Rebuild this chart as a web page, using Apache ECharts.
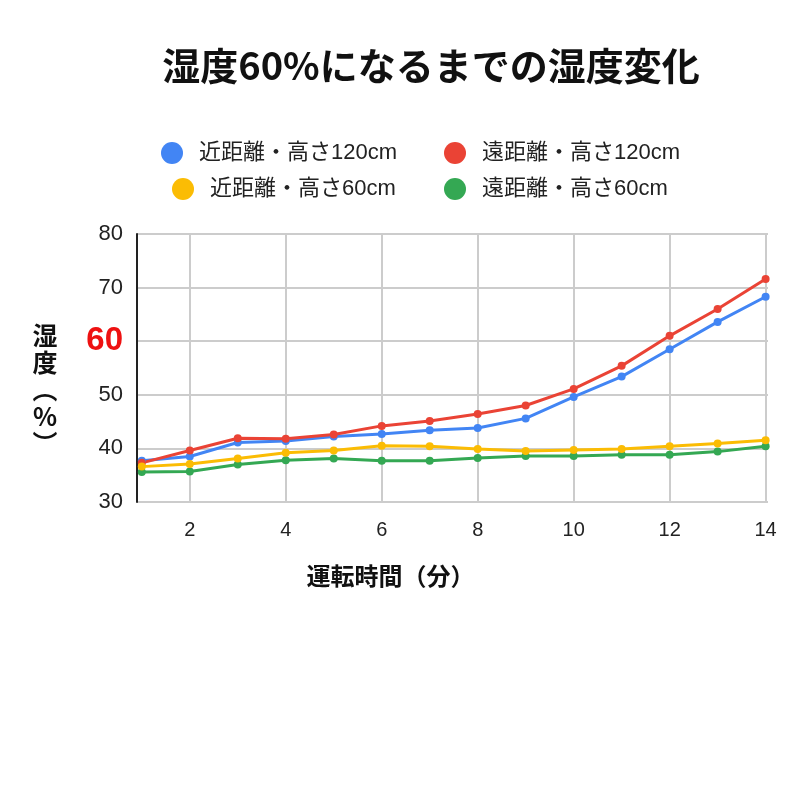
<!DOCTYPE html>
<html>
<head>
<meta charset="utf-8">
<script src="https://cdn.jsdelivr.net/npm/echarts@6/dist/echarts.min.js"></script>
<style>html,body{margin:0;padding:0;background:#fff}#c{width:800px;height:800px}</style>
</head>
<body>
<div id="c"></div>
<script>
const minutes = [1,2,3,4,5,6,7,8,9,10,11,12,13,14];
const xTicks = [2,4,6,8,10,12,14];
const yTicks = [30,40,50,60,70,80];
const seriesNames = ['近距離・高さ120cm','遠距離・高さ120cm','近距離・高さ60cm','遠距離・高さ60cm'];
const nearHigh = [37.7,38.5,41.1,41.4,42.2,42.7,43.4,43.8,45.6,49.6,53.4,58.5,63.6,68.3];
const farHigh  = [37.3,39.6,41.9,41.8,42.6,44.2,45.1,46.4,48.0,51.1,55.4,61.0,66.0,71.6];
const nearLow  = [36.6,37.1,38.1,39.2,39.6,40.5,40.4,39.9,39.5,39.7,39.9,40.4,40.9,41.5];
const farLow   = [35.6,35.7,37.0,37.8,38.1,37.7,37.7,38.2,38.6,38.6,38.8,38.8,39.4,40.4];
const colors = ['#4285F4','#EA4335','#FBBC04','#34A853'];

const latin = "'Liberation Sans','Noto Sans CJK JP',sans-serif";
const cjk = "'Noto Sans CJK JP',sans-serif";

function pairs(vals){ return minutes.map((m,i)=>[m, vals[i]]); }

const chart = echarts.init(document.getElementById('c'), null, {renderer:'canvas'});
function legendAt(name, left, top){
  return {
    data:[name], left:left, top:top, itemWidth:44, itemHeight:22, icon:'circle',
    selectedMode:false,
    textStyle:{fontSize:22, color:'#222', fontFamily:latin}
  };
}
const valsList = [nearHigh, farHigh, nearLow, farLow];
const order = [0,1,3,2];
const yNameText = '{s| }\n{a|湿}\n{a|度}\n{a|︵}\n{a|%}\n{a|︶}';
chart.setOption({
  animation:false,
  backgroundColor:'#fff',
  title:{
    text:'湿度60%になるまでの湿度変化',
    left:426, textAlign:'center', top:42,
    textStyle:{fontSize:38, fontWeight:'bold', color:'#111', fontFamily:cjk}
  },
  legend:[
    legendAt(seriesNames[0],156,137),
    legendAt(seriesNames[1],439,137),
    legendAt(seriesNames[2],167,173),
    legendAt(seriesNames[3],439,173)
  ],
  grid:{left:137, top:234, width:631, height:268, containLabel:false},
  xAxis:{
    type:'value', min:0.9, max:14.05,
    name:'運転時間（分）', nameLocation:'middle', nameGap:62,
    nameTextStyle:{fontSize:24, fontWeight:'bold', color:'#111', fontFamily:cjk, padding:[0,124,0,0]},
    axisLine:{show:false},
    axisTick:{show:false, customValues:xTicks},
    axisLabel:{customValues:xTicks, fontSize:20, color:'#222', fontFamily:latin, margin:18},
    splitLine:{show:true, lineStyle:{color:'#cccccc', width:2}}
  },
  yAxis:{
    type:'value', min:30, max:80, interval:10,
    name:yNameText, nameLocation:'middle', nameGap:92, nameRotate:0,
    nameTextStyle:{
      fontSize:25, fontWeight:'bold', color:'#111', fontFamily:cjk, align:'center', verticalAlign:'middle',
      rich:{
        s:{fontSize:10, lineHeight:42},
        a:{fontSize:25, fontWeight:'bold', color:'#111', fontFamily:cjk, lineHeight:27, align:'center'}
      }
    },
    axisLine:{show:true, lineStyle:{color:'#222', width:2}},
    axisTick:{show:false},
    axisLabel:{
      fontSize:22, color:'#222', fontFamily:latin, margin:14,
      formatter:function(v){ return v===60 ? '{r|60}' : String(v); },
      rich:{r:{fontSize:33, fontWeight:'bold', color:'#ee1111', fontFamily:latin}}
    },
    splitLine:{show:true, lineStyle:{color:'#cccccc', width:2}}
  },
  series: order.map(i=>({
    name:seriesNames[i], type:'line', data:pairs(valsList[i]),
    color:colors[i], symbol:'circle', symbolSize:8,
    lineStyle:{width:3, color:colors[i]}, itemStyle:{color:colors[i]}
  }))
});
</script>
</body>
</html>
